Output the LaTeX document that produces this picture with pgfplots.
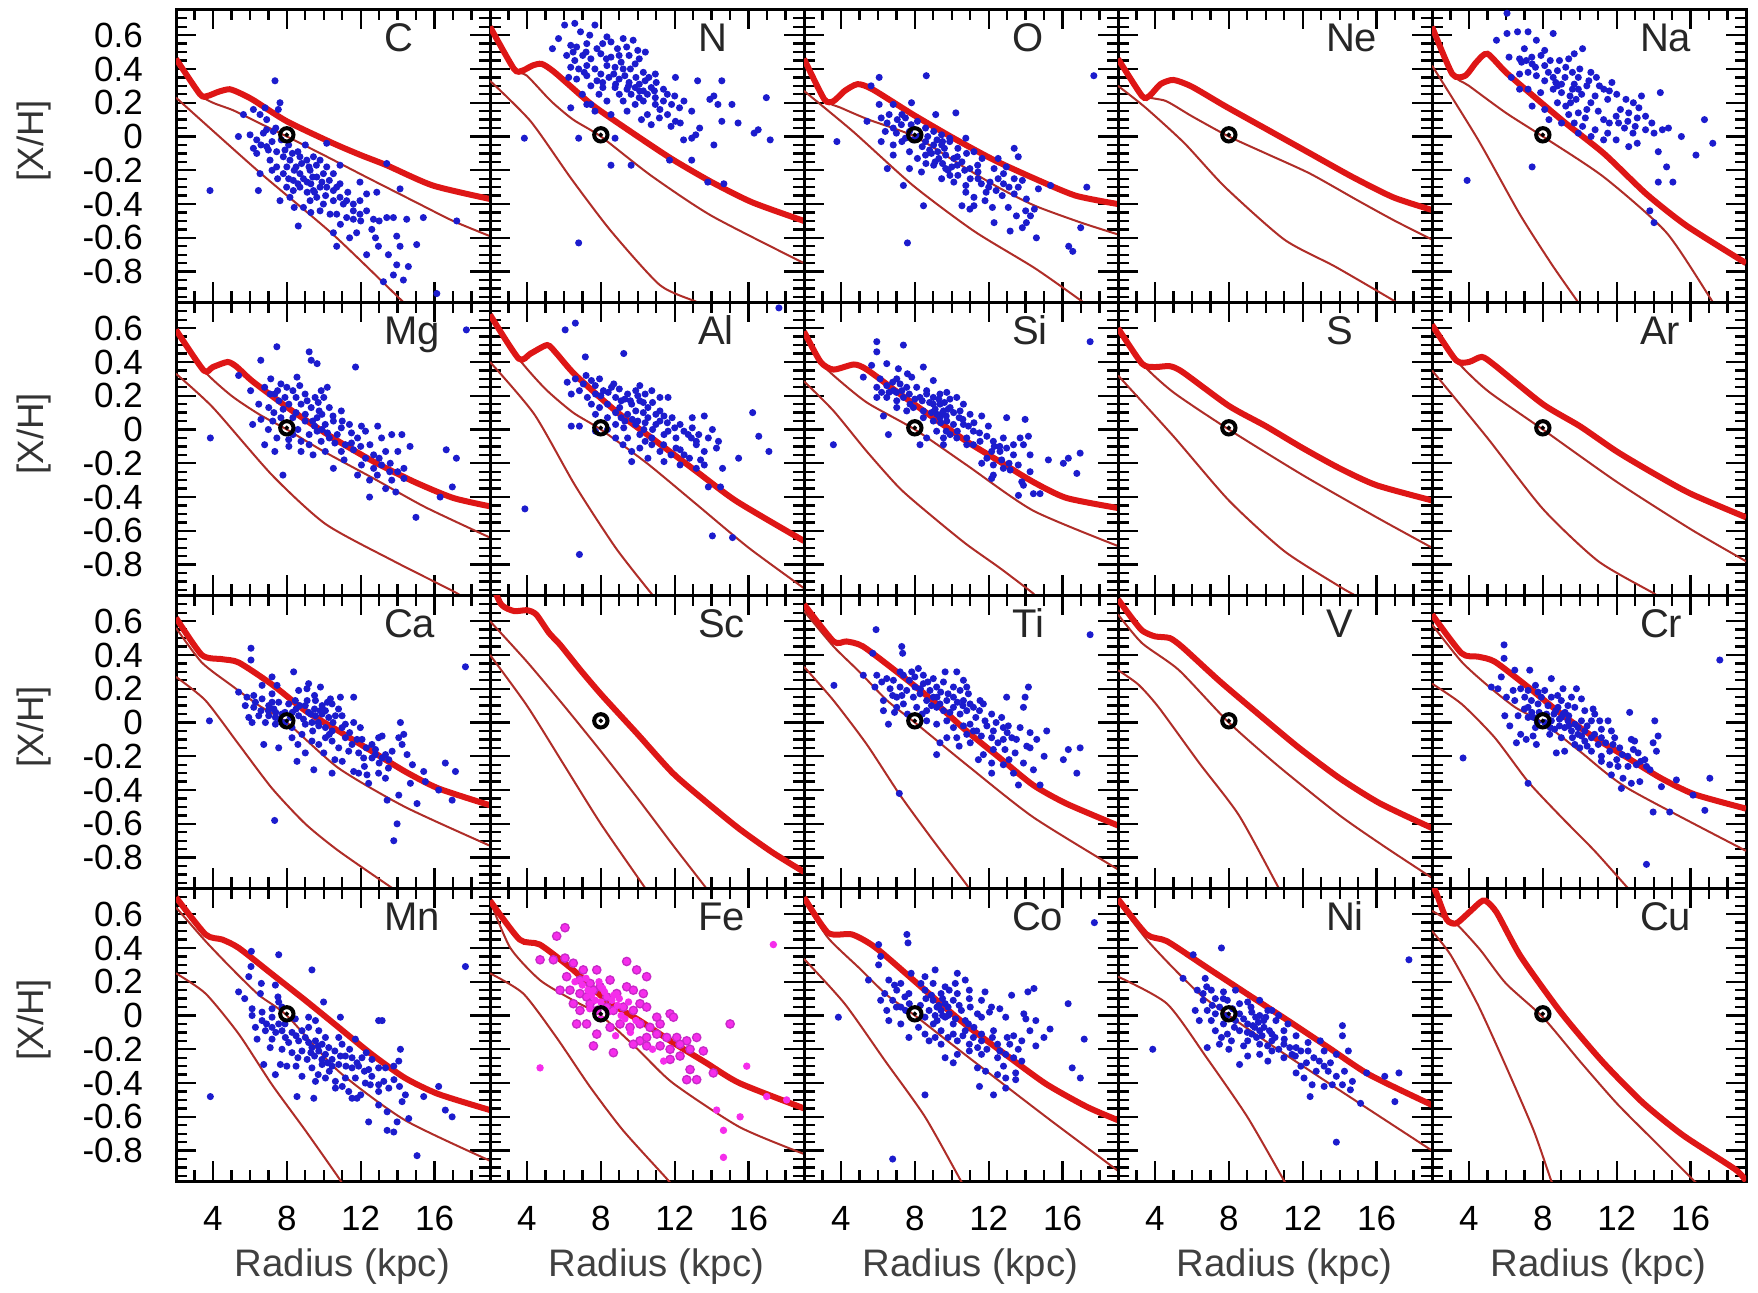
\documentclass[border=0pt]{standalone}
\usepackage{pgfplots}
\pgfplotsset{compat=1.18}
\usepgfplotslibrary{groupplots}
\usepackage{fontspec}
\setmainfont{Liberation Sans}
\definecolor{thickred}{RGB}{222,22,22}
\definecolor{thinred}{RGB}{175,45,40}
\definecolor{ptblue}{RGB}{28,28,205}
\definecolor{femag}{RGB}{245,45,235}
\definecolor{femagd}{RGB}{200,40,200}
\newcommand{\plotthick}[1]{\addplot[thickred, line width=1.8pt, smooth, tension=0.4] coordinates {#1};}
\newcommand{\plotthin}[1]{\addplot[thinred, line width=0.6pt, smooth, tension=0.4] coordinates {#1};}
\newcommand{\plotpts}[1]{\addplot[only marks, mark=*, mark size=0.85pt, ptblue] coordinates {#1};}
\newcommand{\plotsun}{\addplot[only marks, mark=o, mark size=2.0pt, line width=1.2pt, black] coordinates {(8,0.01)};\addplot[only marks, mark=*, mark size=0.45pt, black] coordinates {(8,0.01)};}
\newcommand{\plotlab}[1]{\node[anchor=base west, font=\fontsize{12}{12}\selectfont, text=black!85] at (rel axis cs:0.625,0.854) {#1};}
\newcommand{\plotylab}{\node[rotate=90, inner sep=0pt, font=\fontsize{11}{11}\selectfont, text=black!80] at (rel axis cs:-0.452,0.55) {{[}X/H{]}};}
\newcommand{\plotxlab}{\node[inner sep=0pt, font=\fontsize{11.5}{11.5}\selectfont, text=black!75] at (rel axis cs:0.53,-0.2935) {Radius (kpc)};}
\begin{document}
\begin{tikzpicture}
\begin{groupplot}[
 group style={group size=5 by 4, horizontal sep=0pt, vertical sep=0pt, xticklabels at=edge bottom, yticklabels at=edge left, group name=G},
 scale only axis, width=94.2pt, height=87.9pt,
 xmin=2, xmax=19, ymin=-0.98, ymax=0.755,
 clip mode=individual,
 xtick={4,8,12,16}, xticklabels={4,8,12,16},
 ytick={-0.8,-0.6,-0.4,-0.2,0,0.2,0.4,0.6}, yticklabels={-0.8,-0.6,-0.4,-0.2,0,0.2,0.4,0.6},
 minor xtick={3,5,6,7,9,10,11,13,14,15,17,18},
 minor ytick={-0.95,-0.9,-0.85,-0.75,-0.7,-0.65,-0.55,-0.5,-0.45,-0.35,-0.3,-0.25,-0.15,-0.1,-0.05,0.05,0.1,0.15,0.25,0.3,0.35,0.45,0.5,0.55,0.65,0.7,0.75},
 tick align=inside, xtick pos=both, ytick pos=both,
 major tick length=6pt, minor tick length=3.3pt,
 every tick/.style={black, line width=0.7pt},
 axis line style={line width=0.9pt},
 tick label style={font=\fontsize{10.5}{12}\selectfont},
 xticklabel style={yshift=-4pt},
 yticklabel style={xshift=-6.4pt},
]
% ---------------- C
\nextgroupplot
\plotthin{(2,0.23)(6.5,-0.21)(10.5,-0.58)(14.3,-0.98)(14.5,-1.0)}
\plotthin{(2,0.46)(3.3,0.25)(4,0.20)(5.1,0.155)(6.5,0.08)(8,0.0)(10,-0.11)(12.3,-0.24)(15,-0.39)(17,-0.50)(19,-0.59)}
\plotthick{(2,0.46)(3.3,0.25)(3.7,0.24)(4.3,0.265)(4.9,0.28)(5.5,0.255)(6.2,0.215)(8,0.09)(10.5,-0.04)(12,-0.11)(13.4,-0.17)(15.9,-0.29)(19,-0.37)}
\plotpts{(7.36,0.33)(7.63,0.20)(7.54,0.16)(6.82,0.17)(6.19,0.16)(5.65,0.13)(6.55,0.13)(6.91,0.10)(5.38,0.00)(6.01,0.01)(6.37,-0.02)(6.73,0.02)(7.27,0.03)(6.19,-0.07)(6.37,-0.10)(6.91,-0.06)(7.45,-0.09)(7.09,-0.14)(7.45,-0.18)(7.81,-0.12)(8.17,-0.14)(8.71,-0.12)(9.08,-0.14)(9.44,-0.12)(9.80,-0.14)(7.81,-0.22)(8.35,-0.26)(8.71,-0.22)(9.26,-0.20)(9.62,-0.24)(9.98,-0.22)(10.16,-0.18)(10.52,-0.22)(7.99,-0.30)(8.35,-0.32)(8.71,-0.30)(9.44,-0.32)(9.80,-0.30)(10.16,-0.30)(10.52,-0.32)(7.63,-0.38)(8.17,-0.36)(8.90,-0.42)(9.26,-0.38)(9.62,-0.36)(9.98,-0.40)(10.52,-0.38)(10.88,-0.36)(11.24,-0.38)(11.60,-0.40)(11.96,-0.38)(12.32,-0.34)(12.87,-0.33)(14.13,-0.31)(10.70,-0.46)(11.24,-0.48)(11.60,-0.49)(11.96,-0.46)(12.32,-0.44)(12.69,-0.49)(13.41,-0.48)(13.77,-0.48)(14.49,-0.49)(15.39,-0.48)(17.20,-0.50)(10.16,-0.04)(10.88,-0.17)(11.96,-0.27)(13.41,-0.16)(6.55,-0.22)(6.46,-0.32)(3.84,-0.32)(8.62,-0.53)(10.52,-0.57)(10.70,-0.65)(11.78,-0.57)(12.32,-0.70)(12.96,-0.65)(13.95,-0.59)(14.13,-0.65)(15.03,-0.64)(13.95,-0.76)(14.58,-0.77)(13.77,-0.82)(14.31,-0.85)(13.23,-0.86)(16.12,-0.93)(10.88,-0.28)(11.06,-0.40)(10.34,-0.46)(9.80,-0.44)(8.5,-0.18)(8.9,-0.25)(9.3,-0.28)(9.1,-0.33)(8.6,-0.09)(9.0,-0.05)(8.1,-0.05)(7.2,-0.03)(7.7,-0.02)}
\plotpts{(7.9,-0.08)(8.3,-0.1)(8.8,-0.16)(9.2,-0.18)(9.6,-0.17)(8.0,-0.18)(8.4,-0.2)(9.4,-0.24)(9.9,-0.27)(10.3,-0.26)(8.6,-0.28)(9.1,-0.27)(8.1,-0.25)(7.5,-0.25)(7.2,-0.2)(7.0,-0.08)(6.6,-0.05)(7.4,0.05)(6.9,0.04)(9.5,-0.33)(10.7,-0.3)(11.3,-0.33)(11.6,-0.44)(12.0,-0.5)(12.6,-0.55)(13.0,-0.5)(10.9,-0.52)(11.4,-0.6)(12.8,-0.6)(13.5,-0.7)(10.1,-0.35)(9.3,-0.45)(8.4,-0.42)}
\plotsun
\plotlab{C}
\plotylab
% ---------------- N
\nextgroupplot
\plotthin{(2,0.33)(4.2,0.09)(6.4,-0.25)(8.55,-0.56)(11.2,-0.88)(13.2,-0.98)(13.4,-1.0)}
\plotthin{(2,0.65)(3.3,0.40)(4,0.36)(5.3,0.21)(6.5,0.10)(8,0.0)(10.7,-0.23)(14,-0.47)(19,-0.75)}
\plotthick{(2,0.65)(3.3,0.40)(3.75,0.39)(4.3,0.42)(4.8,0.43)(5.5,0.38)(7.5,0.19)(9.6,0.03)(11.8,-0.13)(14,-0.27)(16.2,-0.39)(19,-0.50)}
\plotpts{(6.04,0.66)(6.59,0.67)(7.68,0.66)(5.71,0.58)(5.38,0.52)(6.37,0.54)(6.69,0.53)(7.24,0.55)(7.79,0.52)(8.33,0.59)(8.55,0.56)(9.21,0.58)(9.75,0.57)(10.41,0.50)(6.15,0.48)(6.59,0.45)(7.02,0.48)(7.46,0.46)(8.00,0.49)(8.55,0.47)(8.99,0.48)(9.53,0.48)(10.08,0.46)(6.37,0.41)(6.80,0.40)(7.24,0.42)(7.68,0.40)(8.33,0.42)(8.77,0.41)(9.21,0.40)(9.86,0.43)(6.26,0.35)(6.69,0.34)(7.24,0.36)(7.79,0.33)(8.44,0.35)(8.99,0.34)(9.53,0.32)(10.08,0.31)(10.95,0.37)(12.04,0.35)(13.24,0.33)(14.55,0.33)(7.46,0.30)(8.11,0.29)(8.77,0.29)(9.42,0.28)(9.86,0.29)(10.30,0.27)(10.73,0.29)(11.39,0.28)(9.64,0.25)(10.08,0.23)(10.52,0.25)(10.95,0.23)(7.46,0.19)(8.33,0.21)(9.21,0.21)(9.86,0.19)(10.30,0.21)(10.95,0.19)(11.39,0.21)(11.83,0.19)(12.26,0.17)(12.92,0.15)(13.90,0.22)(14.12,0.24)(14.34,0.19)(15.10,0.19)(16.96,0.23)(7.68,0.15)(8.55,0.13)(9.42,0.15)(10.52,0.13)(11.17,0.11)(11.61,0.13)(12.04,0.09)(10.73,0.07)(13.35,0.05)(13.14,0.01)(12.48,-0.02)(12.92,-0.01)(14.55,0.09)(15.43,0.08)(16.30,0.02)(16.52,0.04)(17.17,-0.02)(6.80,-0.01)(8.77,-0.01)(3.86,-0.01)(8.55,-0.17)(9.64,-0.17)(11.72,-0.14)(12.92,-0.14)(13.79,-0.27)(14.66,-0.28)(6.80,-0.63)(6.37,0.17)(7.24,0.19)(14.12,-0.05)(7.90,0.25)}
\plotpts{(6.9,0.62)(7.4,0.6)(8.1,0.55)(8.9,0.52)(9.4,0.53)(10.0,0.51)(6.5,0.5)(7.2,0.5)(8.3,0.46)(9.1,0.44)(9.6,0.40)(10.3,0.38)(10.6,0.35)(11.0,0.32)(7.1,0.38)(8.0,0.37)(8.7,0.37)(9.3,0.36)(9.9,0.35)(10.4,0.33)(8.1,0.32)(8.8,0.31)(9.5,0.30)(10.1,0.27)(10.9,0.27)(11.6,0.25)(11.2,0.16)(12.0,0.24)(12.5,0.21)(11.8,0.06)(12.3,0.08)(10.2,0.1)(9.0,0.25)(7.0,0.25)}
\plotsun
\plotlab{N}
% ---------------- O
\nextgroupplot
\plotthin{(2,0.27)(4.65,0.03)(7.9,-0.29)(11.2,-0.56)(14.5,-0.78)(17.1,-0.98)(17.3,-1.0)}
\plotthin{(2,0.46)(3.1,0.22)(4,0.17)(5.5,0.10)(8,0.0)(10.5,-0.17)(12.5,-0.30)(14.5,-0.41)(17,-0.51)(19,-0.58)}
\plotthick{(2,0.46)(3.1,0.22)(3.6,0.21)(4.2,0.27)(4.9,0.31)(5.7,0.28)(7.9,0.13)(10.1,-0.01)(12.3,-0.14)(14.5,-0.25)(16.7,-0.35)(19,-0.40)}
\plotpts{(8.62,0.36)(17.69,0.36)(6.07,0.35)(5.63,0.30)(6.07,0.19)(6.83,0.19)(7.82,0.20)(9.13,0.13)(10.22,0.14)(5.41,0.09)(6.18,0.11)(6.61,0.13)(7.05,0.10)(7.49,0.11)(8.14,0.09)(6.40,0.03)(6.83,0.05)(7.27,0.07)(7.71,0.03)(8.58,0.05)(9.02,0.03)(9.45,0.01)(9.89,-0.01)(6.18,-0.03)(6.83,-0.05)(7.49,-0.01)(8.58,-0.03)(9.02,-0.05)(9.45,-0.05)(9.89,-0.03)(10.33,-0.07)(10.76,-0.01)(6.83,-0.11)(7.71,-0.09)(8.14,-0.13)(8.58,-0.11)(9.24,-0.09)(9.67,-0.11)(10.11,-0.13)(10.55,-0.15)(11.20,-0.09)(11.64,-0.13)(12.51,-0.13)(13.38,-0.07)(13.60,-0.12)(7.71,-0.19)(8.36,-0.21)(9.02,-0.17)(9.67,-0.19)(10.33,-0.23)(10.98,-0.19)(11.42,-0.21)(12.29,-0.19)(12.95,-0.18)(9.45,-0.25)(10.11,-0.27)(10.76,-0.29)(11.42,-0.25)(12.07,-0.27)(12.51,-0.25)(13.38,-0.25)(13.82,-0.26)(14.69,-0.31)(15.35,-0.29)(17.31,-0.30)(10.76,-0.33)(11.20,-0.36)(11.86,-0.33)(10.55,-0.41)(11.20,-0.41)(12.73,-0.35)(13.38,-0.34)(14.04,-0.37)(14.47,-0.43)(13.06,-0.42)(12.29,-0.51)(13.16,-0.56)(13.82,-0.54)(14.26,-0.47)(14.04,-0.51)(14.58,-0.60)(16.98,-0.54)(16.33,-0.65)(16.55,-0.68)(3.78,-0.03)(6.51,-0.19)(7.38,-0.29)(8.47,-0.41)(7.60,-0.63)(10.98,-0.43)(8.8,-0.08)(9.3,-0.13)(9.6,-0.07)(8.4,-0.06)(9.1,-0.15)(10.0,-0.18)(9.8,-0.2)}
\plotpts{(7.0,0.02)(7.3,-0.03)(7.9,-0.02)(8.2,0.0)(8.7,0.0)(9.2,-0.02)(9.5,-0.03)(8.9,-0.1)(9.5,-0.16)(10.3,-0.17)(10.7,-0.2)(11.0,-0.25)(11.6,-0.28)(12.0,-0.3)(12.4,-0.32)(12.8,-0.28)(13.1,-0.3)(11.8,-0.38)(12.2,-0.42)(10.3,-0.12)(10.8,-0.1)(7.3,0.13)(6.5,0.08)(7.8,0.07)(8.6,-0.16)(9.9,-0.23)(11.4,-0.17)(12.8,-0.22)(13.6,-0.3)(14.0,-0.44)(13.5,-0.47)}
\plotsun
\plotlab{O}
% ---------------- Ne
\nextgroupplot
\plotthin{(2,0.30)(3.5,0.17)(5.6,-0.04)(7.8,-0.30)(11,-0.61)(13.75,-0.77)(16.9,-0.97)(17.3,-1.0)}
\plotthin{(2,0.46)(3.3,0.25)(4.6,0.21)(6,0.12)(8,0.0)(10,-0.10)(12.4,-0.22)(15,-0.38)(17,-0.50)(19,-0.61)}
\plotthick{(2,0.46)(3.3,0.24)(3.7,0.24)(4.3,0.31)(5,0.335)(6,0.295)(7.8,0.18)(10.1,0.04)(12.4,-0.10)(14.7,-0.24)(16.9,-0.36)(19,-0.435)}
\plotsun
\plotlab{Ne}
% ---------------- Na
\nextgroupplot
\plotthin{(2,0.42)(4.5,-0.02)(6.75,-0.46)(8.5,-0.76)(9.9,-0.98)(10,-1.0)}
\plotthin{(2,0.65)(3.1,0.37)(4,0.30)(6,0.14)(8,0.0)(11.3,-0.24)(14.7,-0.57)(17.2,-0.98)(17.4,-1.0)}
\plotthick{(2,0.65)(3.1,0.37)(3.8,0.36)(4.4,0.44)(5.0,0.49)(6.1,0.37)(9,0.10)(11.3,-0.10)(13.6,-0.34)(15.8,-0.53)(19,-0.75)}
\plotpts{(6.06,0.73)(5.49,0.57)(6.06,0.61)(6.63,0.62)(7.20,0.62)(7.65,0.57)(8.56,0.61)(9.70,0.49)(10.15,0.52)(6.17,0.47)(6.74,0.46)(7.42,0.43)(8.10,0.42)(8.79,0.39)(9.24,0.41)(9.92,0.35)(10.49,0.33)(11.06,0.30)(11.74,0.32)(6.29,0.35)(6.74,0.37)(7.20,0.38)(7.65,0.36)(8.10,0.33)(8.56,0.35)(9.01,0.31)(9.70,0.31)(10.38,0.30)(6.74,0.28)(7.20,0.28)(7.88,0.26)(8.56,0.28)(9.01,0.26)(9.47,0.24)(9.92,0.28)(10.83,0.24)(11.51,0.22)(12.20,0.16)(13.34,0.24)(14.36,0.26)(7.42,0.18)(8.10,0.16)(8.79,0.20)(9.24,0.18)(9.92,0.14)(10.38,0.16)(11.29,0.10)(11.97,0.12)(12.65,0.14)(13.11,0.11)(13.56,0.12)(8.33,0.10)(9.01,0.08)(9.70,0.08)(10.15,0.06)(10.83,0.04)(11.51,0.02)(12.42,0.05)(12.88,0.02)(13.56,0.04)(14.02,0.02)(14.47,0.04)(15.50,0.00)(16.75,0.10)(17.20,-0.04)(16.29,-0.11)(9.92,0.02)(10.61,0.00)(11.29,-0.02)(11.97,-0.02)(12.65,-0.06)(13.11,-0.04)(14.25,-0.09)(14.70,-0.18)(14.25,-0.27)(15.04,-0.27)(13.79,-0.44)(14.02,-0.51)(3.90,-0.26)(7.42,-0.18)(6.85,0.44)(8.10,0.51)(9.5,0.2)(9.8,0.22)(10.1,0.25)(9.6,0.28)(8.8,0.3)}
\plotpts{(7.0,0.52)(7.4,0.47)(7.9,0.48)(8.4,0.45)(8.9,0.45)(9.4,0.46)(8.3,0.38)(8.7,0.32)(9.2,0.35)(9.6,0.38)(10.0,0.4)(10.6,0.38)(10.9,0.35)(11.3,0.28)(11.6,0.27)(12.0,0.25)(12.5,0.22)(12.9,0.2)(13.2,0.17)(10.6,0.2)(11.0,0.15)(11.6,0.08)(12.1,0.08)(12.6,0.09)(13.0,0.06)(13.9,0.08)(14.8,0.05)(9.4,0.13)(10.3,0.11)(7.1,0.45)(7.6,0.41)}
\plotsun
\plotlab{Na}
% ---------------- Mg
\nextgroupplot
\plotthin{(2,0.33)(4,0.13)(7.2,-0.27)(10.1,-0.56)(13.8,-0.78)(17.05,-0.96)(17.6,-1.0)}
\plotthin{(2,0.59)(3.5,0.35)(5,0.20)(6.5,0.09)(8,0.0)(10,-0.13)(12.7,-0.29)(15.5,-0.46)(19,-0.64)}
\plotthick{(2,0.59)(3.5,0.35)(4.0,0.37)(4.8,0.40)(5.3,0.37)(6.15,0.285)(8.3,0.11)(10.5,-0.05)(12.7,-0.19)(14.9,-0.31)(17,-0.405)(19,-0.455)}
\plotpts{(7.46,0.49)(9.21,0.46)(9.32,0.41)(9.64,0.39)(6.59,0.41)(11.72,0.37)(5.39,0.32)(7.13,0.30)(7.68,0.27)(8.55,0.31)(10.19,0.25)(6.04,0.23)(6.80,0.25)(7.35,0.21)(7.90,0.19)(8.33,0.23)(8.99,0.21)(9.53,0.19)(9.86,0.23)(6.48,0.15)(7.02,0.13)(7.57,0.17)(8.11,0.15)(8.77,0.15)(9.32,0.13)(9.75,0.11)(10.30,0.13)(10.95,0.11)(6.15,0.03)(7.24,0.05)(7.68,0.07)(8.33,0.07)(8.99,0.05)(9.64,0.07)(10.08,0.03)(10.52,0.05)(10.95,0.01)(11.39,0.03)(12.04,0.02)(12.92,0.02)(6.80,-0.09)(7.46,-0.05)(8.33,-0.03)(8.77,-0.07)(9.21,-0.03)(9.64,-0.01)(10.30,-0.05)(10.73,-0.03)(11.17,-0.09)(11.83,-0.05)(12.26,-0.01)(13.13,-0.05)(13.68,-0.03)(14.23,-0.03)(7.35,-0.13)(8.11,-0.10)(8.77,-0.13)(9.42,-0.15)(10.08,-0.13)(10.95,-0.13)(11.61,-0.12)(12.26,-0.17)(12.70,-0.15)(13.35,-0.13)(14.01,-0.13)(14.67,-0.10)(16.63,-0.12)(17.18,-0.17)(12.04,-0.21)(12.70,-0.23)(13.13,-0.21)(13.57,-0.25)(14.34,-0.23)(11.83,-0.27)(12.48,-0.30)(13.68,-0.30)(14.34,-0.29)(13.90,-0.37)(13.35,-0.35)(12.48,-0.40)(14.99,-0.52)(16.30,-0.40)(16.96,-0.34)(7.79,-0.27)(3.86,-0.05)(10.52,-0.23)(17.72,0.59)(9.86,-0.07)(9.21,-0.09)(9.9,0.0)(10.2,-0.02)(9.5,0.02)}
\plotpts{(7.1,0.21)(7.5,0.23)(8.0,0.25)(8.5,0.19)(8.7,0.26)(9.1,0.17)(9.7,0.16)(10.0,0.19)(7.3,0.1)(7.8,0.12)(8.5,0.1)(9.0,0.09)(9.4,0.05)(9.9,0.09)(10.5,0.08)(10.6,-0.08)(11.5,-0.08)(12.0,-0.1)(12.5,-0.09)(13.0,-0.17)(13.6,-0.2)(11.1,-0.18)(11.5,-0.02)(8.6,0.0)(7.0,0.0)(6.6,0.06)(12.9,-0.27)(14.0,-0.25)(11.0,0.05)(8.1,-0.06)}
\plotsun
\plotlab{Mg}
\plotylab
% ---------------- Al
\nextgroupplot
\plotthin{(2,0.40)(4.4,0.09)(6.6,-0.33)(8.8,-0.70)(10.8,-0.98)(11,-1.0)}
\plotthin{(2,0.68)(3.55,0.42)(5,0.24)(6.5,0.10)(8,0.0)(10.5,-0.20)(13.2,-0.445)(16,-0.70)(19,-0.94)}
\plotthick{(2,0.68)(3.55,0.42)(4.2,0.45)(5.1,0.50)(5.6,0.45)(6.6,0.325)(8.8,0.11)(11,-0.07)(13.2,-0.25)(15.35,-0.425)(19,-0.66)}
\plotpts{(6.07,0.59)(6.62,0.63)(9.24,0.45)(7.16,0.43)(6.18,0.28)(6.62,0.30)(7.05,0.27)(7.49,0.29)(7.93,0.30)(8.58,0.25)(10.11,0.26)(6.40,0.21)(6.84,0.23)(7.27,0.19)(7.71,0.21)(8.14,0.23)(8.80,0.19)(9.45,0.21)(9.89,0.23)(10.76,0.23)(11.20,0.19)(11.64,0.19)(7.49,0.15)(7.93,0.13)(8.36,0.15)(9.02,0.13)(9.67,0.15)(10.11,0.17)(10.55,0.13)(11.20,0.11)(7.71,0.09)(8.36,0.07)(8.80,0.10)(9.45,0.09)(9.89,0.11)(10.55,0.07)(10.98,0.09)(11.42,0.08)(11.86,0.07)(12.95,0.07)(13.60,0.08)(6.40,0.02)(6.84,0.02)(8.80,0.03)(9.24,0.01)(9.89,0.03)(10.33,0.00)(10.98,0.03)(11.64,-0.01)(12.29,0.03)(12.95,0.01)(14.04,0.00)(16.22,0.10)(8.80,-0.05)(9.45,-0.05)(10.11,-0.03)(10.76,-0.05)(11.42,-0.03)(12.07,-0.05)(12.73,-0.03)(13.17,-0.07)(13.82,-0.05)(14.37,-0.07)(16.55,-0.04)(17.10,-0.13)(9.67,-0.13)(10.11,-0.11)(10.76,-0.09)(11.20,-0.13)(12.07,-0.11)(12.51,-0.15)(13.17,-0.09)(13.60,-0.13)(14.26,-0.11)(9.67,-0.19)(10.55,-0.17)(11.42,-0.19)(12.29,-0.21)(13.17,-0.23)(13.60,-0.21)(14.59,-0.23)(15.46,-0.17)(13.82,-0.34)(14.48,-0.34)(14.04,-0.63)(15.13,-0.64)(3.89,-0.47)(6.84,-0.74)(17.64,0.72)(7.71,-0.01)(8.36,0.00)(9.1,0.17)(9.3,0.05)(10.3,0.10)}
\plotpts{(7.2,0.32)(7.7,0.26)(8.0,0.2)(8.4,0.22)(8.7,0.27)(9.0,0.24)(9.3,0.18)(9.6,0.17)(10.0,0.2)(10.4,0.21)(10.3,0.16)(10.8,0.16)(9.1,0.07)(9.7,0.06)(10.0,0.05)(10.4,0.04)(10.8,0.0)(11.2,0.05)(11.6,0.04)(12.0,0.01)(12.5,-0.01)(12.9,-0.05)(13.3,-0.03)(11.4,-0.09)(11.8,-0.15)(12.3,-0.12)(12.8,-0.17)(13.4,-0.18)(9.2,-0.09)(10.4,-0.07)}
\plotsun
\plotlab{Al}
% ---------------- Si
\nextgroupplot
\plotthin{(2,0.285)(3.6,0.11)(5.4,-0.13)(7.2,-0.35)(9,-0.52)(10.8,-0.68)(12.6,-0.82)(14.4,-0.97)(14.6,-1.0)}
\plotthin{(2,0.58)(2.9,0.40)(3.6,0.32)(5.4,0.16)(8,0.0)(10.8,-0.21)(14.4,-0.48)(19,-0.69)}
\plotthick{(2,0.58)(2.9,0.40)(3.6,0.355)(4.7,0.385)(5.4,0.355)(7.2,0.21)(9,0.07)(10.8,-0.07)(12.6,-0.19)(14.4,-0.31)(16.2,-0.405)(19,-0.465)}
\plotpts{(5.94,0.52)(5.94,0.46)(7.38,0.50)(17.49,0.52)(5.66,0.38)(6.48,0.39)(8.46,0.37)(7.11,0.36)(5.21,0.31)(6.12,0.30)(7.02,0.30)(7.83,0.31)(9.00,0.29)(5.94,0.25)(6.48,0.26)(6.84,0.23)(7.20,0.27)(7.56,0.25)(8.10,0.25)(8.64,0.23)(5.94,0.19)(6.48,0.19)(7.02,0.17)(7.38,0.19)(7.74,0.15)(8.28,0.19)(8.64,0.21)(9.00,0.19)(9.36,0.21)(9.73,0.22)(10.27,0.19)(10.63,0.15)(7.02,0.13)(7.56,0.11)(7.92,0.13)(8.46,0.11)(9.00,0.15)(9.36,0.15)(9.55,0.11)(9.91,0.13)(10.45,0.11)(10.99,0.09)(11.62,0.08)(12.97,0.07)(13.97,0.06)(6.30,0.08)(8.46,0.07)(9.00,0.05)(9.36,0.07)(9.73,0.05)(10.09,0.03)(10.63,0.03)(11.17,-0.01)(11.98,0.02)(6.57,-0.03)(8.64,-0.05)(9.18,-0.01)(9.55,-0.05)(9.91,-0.03)(10.27,-0.05)(10.81,-0.05)(11.17,-0.09)(11.53,-0.07)(12.25,-0.07)(12.79,-0.05)(12.97,-0.11)(13.34,-0.09)(13.70,-0.05)(14.15,-0.04)(8.28,-0.09)(9.55,-0.09)(10.81,-0.09)(12.16,-0.13)(12.61,-0.13)(13.34,-0.15)(13.88,-0.09)(14.24,-0.15)(15.23,-0.18)(16.95,-0.14)(16.31,-0.17)(16.04,-0.20)(11.62,-0.20)(12.25,-0.21)(12.79,-0.23)(13.16,-0.24)(14.24,-0.25)(12.25,-0.27)(12.16,-0.29)(13.79,-0.31)(13.88,-0.33)(14.42,-0.38)(14.78,-0.38)(13.61,-0.39)(16.77,-0.26)(3.59,-0.09)(9.5,0.10)(9.7,0.08)(9.4,0.04)(9.8,0.12)(9.2,0.09)}
\plotpts{(6.2,0.22)(6.6,0.22)(7.0,0.22)(7.3,0.23)(7.7,0.21)(8.0,0.18)(8.4,0.17)(8.8,0.16)(9.1,0.12)(9.3,0.18)(9.6,0.16)(9.9,0.18)(10.1,0.1)(10.4,0.07)(10.6,0.06)(10.9,0.02)(11.2,0.04)(11.5,-0.02)(11.9,-0.04)(12.3,-0.1)(12.6,-0.1)(11.9,-0.17)(12.7,-0.18)(13.1,-0.2)(13.6,-0.21)(10.3,-0.01)(9.7,-0.01)(8.9,0.1)(6.8,0.28)(7.6,0.33)}
\plotsun
\plotlab{Si}
% ---------------- S
\nextgroupplot
\plotthin{(2,0.32)(5,-0.04)(8,-0.42)(11,-0.72)(14,-0.93)(14.8,-0.98)(15.1,-1.0)}
\plotthin{(2,0.60)(3.3,0.39)(5,0.22)(8,0.0)(12,-0.27)(16,-0.52)(19,-0.70)}
\plotthick{(2,0.60)(3.3,0.39)(4.0,0.37)(4.8,0.375)(5.5,0.34)(8,0.14)(10,0.02)(12,-0.11)(14,-0.23)(16,-0.33)(19,-0.42)}
\plotsun
\plotlab{S}
% ---------------- Ar
\nextgroupplot
\plotthin{(2,0.35)(5,-0.05)(8,-0.47)(11,-0.78)(14,-0.97)(14.3,-1.0)}
\plotthin{(2,0.62)(3.3,0.41)(5,0.23)(8,0.0)(12,-0.31)(16,-0.59)(19,-0.78)}
\plotthick{(2,0.62)(3.3,0.41)(4,0.40)(4.7,0.43)(5.4,0.38)(8,0.15)(10,0.02)(12,-0.13)(14,-0.26)(16,-0.38)(19,-0.52)}
\plotsun
\plotlab{Ar}
% ---------------- Ca
\nextgroupplot
\plotthin{(2,0.27)(3.6,0.13)(5.4,-0.13)(7.2,-0.39)(9,-0.60)(10.8,-0.76)(13.7,-0.98)(14,-1.0)}
\plotthin{(2,0.56)(3.4,0.355)(5,0.22)(6.5,0.10)(8,0.0)(10.8,-0.27)(14.4,-0.50)(19,-0.73)}
\plotthick{(2,0.62)(3.4,0.40)(4.5,0.375)(5.4,0.355)(7.2,0.225)(9,0.07)(10.8,-0.05)(12.6,-0.17)(14.4,-0.29)(16.2,-0.39)(19,-0.49)}
\plotpts{(6.06,0.44)(6.06,0.37)(17.67,0.33)(8.37,0.30)(7.20,0.27)(9.18,0.23)(6.66,0.22)(7.47,0.22)(5.39,0.18)(5.84,0.15)(6.21,0.16)(6.66,0.14)(7.20,0.17)(8.64,0.19)(9.09,0.20)(9.82,0.21)(10.36,0.14)(10.90,0.15)(11.62,0.15)(5.75,0.10)(6.21,0.09)(7.02,0.10)(7.56,0.12)(8.10,0.11)(8.46,0.13)(9.00,0.10)(9.55,0.13)(9.91,0.10)(10.09,0.07)(10.45,0.11)(5.94,0.03)(6.48,0.04)(7.02,0.04)(7.38,0.03)(7.74,0.05)(8.64,0.04)(9.18,0.06)(9.55,0.04)(9.91,0.05)(10.27,0.03)(10.63,0.04)(10.99,0.04)(3.81,0.01)(6.12,0.00)(6.84,0.00)(7.38,-0.01)(8.28,-0.03)(9.00,-0.01)(9.36,0.00)(9.73,-0.02)(10.09,-0.03)(10.45,-0.05)(10.99,-0.03)(11.17,-0.01)(11.62,0.00)(11.98,-0.03)(14.15,0.00)(6.75,-0.13)(7.56,-0.15)(8.28,-0.09)(8.82,-0.07)(9.36,-0.11)(9.73,-0.13)(10.09,-0.09)(10.45,-0.11)(10.81,-0.15)(11.17,-0.09)(11.53,-0.13)(12.07,-0.10)(12.61,-0.13)(12.97,-0.09)(13.16,-0.08)(14.06,-0.09)(14.33,-0.07)(14.24,-0.13)(13.70,-0.17)(12.79,-0.19)(13.34,-0.19)(11.35,-0.17)(11.89,-0.18)(12.16,-0.21)(12.61,-0.21)(13.16,-0.21)(13.52,-0.22)(14.51,-0.19)(8.55,-0.23)(9.46,-0.28)(10.45,-0.30)(11.62,-0.29)(11.89,-0.30)(12.34,-0.31)(12.43,-0.36)(12.97,-0.30)(13.34,-0.33)(14.69,-0.36)(15.41,-0.29)(16.22,-0.40)(16.58,-0.24)(17.13,-0.29)(16.95,-0.46)(15.05,-0.48)(13.43,-0.46)(14.06,-0.43)(13.97,-0.60)(13.79,-0.70)(7.34,-0.58)(7.6,0.02)(7.9,0.06)(8.2,0.03)(8.5,0.08)(9.3,0.05)(9.5,0.08)(9.7,0.0)(9.4,-0.05)(7.0,0.07)(7.3,0.08)}
\plotpts{(7.4,0.06)(7.9,0.0)(8.3,0.06)(8.7,0.1)(8.9,0.02)(9.1,0.13)(9.5,0.16)(9.8,0.07)(10.2,0.12)(10.5,0.0)(10.8,0.08)(10.3,-0.07)(11.4,-0.06)(11.8,-0.1)(12.3,-0.15)(12.8,-0.16)(13.0,-0.24)(13.5,-0.27)(8.6,-0.13)(9.0,-0.18)(10.0,-0.18)(10.6,-0.22)(11.0,-0.23)(6.6,0.07)(6.3,0.12)(7.2,0.12)(12.2,-0.26)(14.8,-0.25)(15.5,-0.35)}
\plotsun
\plotlab{Ca}
\plotylab
% ---------------- Sc
\nextgroupplot
\plotthin{(2,0.40)(4,0.10)(6,-0.25)(8,-0.60)(10.4,-0.98)(10.5,-1.0)}
\plotthin{(2,0.60)(4,0.36)(6,0.10)(8,-0.17)(10,-0.45)(12,-0.74)(13.7,-0.98)(13.8,-1.0)}
\plotthick{(2,0.85)(2.6,0.70)(3.3,0.66)(4.0,0.665)(4.5,0.64)(5.2,0.53)(5.8,0.46)(6.9,0.31)(8.07,0.16)(10,-0.07)(11.9,-0.30)(13.7,-0.47)(15.5,-0.63)(17.3,-0.77)(19,-0.885)}
\plotsun
\plotlab{Sc}
% ---------------- Ti
\nextgroupplot
\plotthin{(2,0.33)(3.6,0.13)(5.4,-0.13)(7.2,-0.43)(9,-0.70)(10.8,-0.96)(11,-1.0)}
\plotthin{(2,0.66)(3.6,0.45)(5,0.30)(6.5,0.13)(8,0.0)(10.8,-0.25)(14.4,-0.56)(19,-0.87)}
\plotthick{(2,0.70)(3.6,0.48)(4.3,0.48)(5.2,0.45)(7.2,0.285)(9,0.127)(10.8,-0.05)(12.6,-0.21)(14.4,-0.37)(16.2,-0.48)(19,-0.61)}
\plotpts{(5.90,0.55)(17.49,0.52)(7.29,0.45)(7.34,0.41)(5.72,0.41)(5.21,0.28)(5.94,0.28)(6.48,0.26)(6.84,0.25)(7.20,0.30)(7.38,0.28)(7.83,0.30)(8.19,0.32)(8.46,0.28)(9.00,0.26)(9.64,0.30)(10.27,0.30)(10.63,0.25)(5.84,0.21)(6.21,0.24)(6.66,0.20)(7.20,0.21)(7.56,0.19)(8.01,0.21)(8.46,0.23)(8.82,0.19)(9.18,0.21)(9.55,0.24)(10.09,0.21)(10.45,0.19)(10.81,0.21)(14.15,0.21)(3.62,0.22)(6.30,0.13)(7.02,0.15)(7.38,0.11)(7.92,0.15)(8.28,0.17)(8.64,0.13)(9.00,0.15)(9.36,0.11)(9.73,0.13)(10.09,0.15)(10.63,0.13)(10.99,0.11)(11.53,0.13)(12.97,0.15)(13.97,0.15)(6.30,0.07)(7.02,0.09)(8.10,0.09)(8.64,0.07)(9.18,0.09)(9.55,0.07)(10.09,0.09)(10.45,0.05)(10.81,0.07)(11.17,0.09)(11.71,0.11)(12.16,0.05)(12.70,0.03)(13.88,0.09)(6.57,-0.01)(8.64,0.01)(9.18,-0.01)(9.73,0.01)(10.09,-0.03)(10.63,-0.02)(10.99,-0.01)(11.35,-0.05)(11.80,0.01)(12.25,-0.05)(12.79,-0.03)(13.06,-0.02)(13.70,-0.03)(14.24,-0.06)(15.14,-0.05)(9.73,-0.09)(10.27,-0.09)(10.81,-0.07)(11.17,-0.05)(12.16,-0.09)(12.79,-0.10)(13.25,-0.09)(14.06,-0.14)(14.24,-0.15)(9.36,-0.12)(9.18,-0.19)(11.71,-0.19)(12.25,-0.16)(12.88,-0.16)(13.43,-0.18)(16.31,-0.16)(16.95,-0.15)(16.04,-0.22)(16.77,-0.30)(11.44,-0.22)(12.16,-0.24)(12.79,-0.25)(13.88,-0.24)(14.42,-0.28)(12.16,-0.30)(13.34,-0.30)(13.61,-0.37)(14.78,-0.37)(7.16,-0.42)}
\plotpts{(6.8,0.16)(7.3,0.16)(7.7,0.25)(8.0,0.27)(8.3,0.2)(8.7,0.24)(8.9,0.1)(9.2,0.15)(9.4,0.18)(9.8,0.17)(9.9,0.06)(10.3,0.12)(10.6,0.1)(10.9,0.17)(11.3,0.03)(11.5,0.07)(11.9,-0.02)(12.4,0.0)(12.5,-0.12)(13.0,-0.06)(13.5,-0.1)(11.0,-0.12)(11.6,-0.08)(10.4,-0.14)(13.1,-0.22)(14.6,-0.1)(15.0,-0.2)(8.4,0.05)(7.6,0.05)(6.9,0.06)}
\plotsun
\plotlab{Ti}
% ---------------- V
\nextgroupplot
\plotthin{(2,0.31)(3.1,0.225)(4.2,0.09)(6.4,-0.24)(8.55,-0.55)(10.7,-0.98)(10.8,-1.0)}
\plotthin{(2,0.64)(3.3,0.47)(5.3,0.31)(8,0.0)(10.7,-0.26)(14,-0.55)(16.5,-0.74)(19,-0.92)}
\plotthick{(2,0.73)(2.6,0.64)(3.3,0.545)(4,0.51)(4.8,0.50)(5.5,0.445)(7.5,0.245)(9.6,0.05)(11.8,-0.15)(14,-0.33)(16.2,-0.48)(19,-0.625)}
\plotsun
\plotlab{V}
% ---------------- Cr
\nextgroupplot
\plotthin{(2,0.23)(3.6,0.11)(5.4,-0.09)(7.2,-0.35)(9,-0.56)(10.8,-0.76)(12.6,-0.98)(12.8,-1.0)}
\plotthin{(2,0.58)(3.6,0.36)(5,0.22)(6.5,0.09)(8,0.0)(10,-0.17)(12.6,-0.39)(19,-0.76)}
\plotthick{(2,0.64)(3.6,0.41)(4.5,0.39)(5.4,0.36)(7.2,0.21)(9,0.05)(10.8,-0.09)(12.6,-0.21)(14.4,-0.33)(16.2,-0.425)(19,-0.51)}
\plotpts{(5.90,0.46)(5.90,0.38)(17.58,0.37)(6.48,0.31)(7.29,0.31)(8.46,0.26)(5.75,0.27)(5.21,0.21)(5.57,0.20)(6.39,0.19)(7.20,0.19)(7.74,0.18)(9.09,0.20)(9.82,0.20)(6.03,0.15)(6.48,0.13)(7.02,0.15)(7.38,0.13)(7.92,0.15)(8.46,0.15)(9.00,0.13)(9.55,0.15)(10.09,0.14)(10.72,0.08)(7.20,0.09)(7.74,0.11)(8.28,0.10)(8.82,0.09)(9.36,0.10)(9.73,0.09)(10.27,0.07)(10.81,0.05)(12.70,0.06)(14.06,0.01)(5.94,0.04)(6.66,0.04)(7.20,0.03)(8.46,0.01)(9.00,0.03)(9.36,0.01)(9.73,-0.01)(10.09,0.01)(10.63,0.01)(11.08,0.01)(11.53,0.01)(6.21,-0.02)(8.64,-0.04)(9.18,-0.03)(9.55,-0.05)(9.91,-0.03)(10.27,-0.05)(11.17,-0.04)(11.71,-0.05)(7.47,-0.08)(8.37,-0.07)(9.00,-0.09)(9.73,-0.13)(10.27,-0.11)(10.63,-0.09)(11.17,-0.09)(11.89,-0.09)(12.79,-0.10)(12.97,-0.11)(14.24,-0.08)(13.97,-0.12)(14.15,-0.17)(6.57,-0.12)(7.65,-0.13)(8.73,-0.18)(9.18,-0.17)(10.00,-0.15)(10.63,-0.17)(11.17,-0.20)(11.62,-0.17)(12.16,-0.15)(13.16,-0.18)(13.52,-0.22)(11.17,-0.23)(11.62,-0.25)(12.07,-0.26)(12.61,-0.26)(13.06,-0.25)(13.61,-0.26)(3.68,-0.21)(11.71,-0.31)(12.34,-0.33)(12.79,-0.36)(13.25,-0.35)(14.42,-0.38)(12.25,-0.39)(15.23,-0.34)(16.13,-0.43)(16.77,-0.52)(17.04,-0.33)(13.97,-0.53)(14.87,-0.53)(7.20,-0.36)(13.61,-0.84)(7.5,0.03)(7.8,0.06)(8.1,0.0)(8.6,0.05)(8.9,0.02)(9.2,0.06)(9.4,-0.02)(7.6,-0.03)}
\plotpts{(7.0,0.08)(7.4,0.06)(7.7,0.0)(8.2,0.05)(8.4,-0.03)(8.7,0.07)(8.9,-0.02)(9.1,0.05)(9.4,0.04)(9.6,-0.09)(9.9,-0.07)(10.1,-0.08)(10.4,-0.02)(10.8,-0.07)(11.0,-0.13)(11.4,-0.12)(11.8,-0.13)(12.3,-0.19)(12.6,-0.2)(12.9,-0.16)(13.3,-0.23)(13.8,-0.28)(12.0,-0.22)(10.4,-0.14)(6.8,0.2)(7.6,0.22)(8.1,0.19)(8.8,0.16)(6.8,-0.07)(7.1,-0.1)}
\plotsun
\plotlab{Cr}
% ---------------- Mn
\nextgroupplot
\plotthin{(2,0.25)(3.6,0.13)(5.4,-0.11)(7.2,-0.41)(9,-0.68)(10.8,-0.96)(11,-1.0)}
\plotthin{(2,0.64)(3.6,0.44)(5,0.28)(6.5,0.12)(8,0.0)(10.8,-0.33)(14.4,-0.62)(19,-0.86)}
\plotthick{(2,0.70)(3.6,0.48)(4.5,0.45)(5.4,0.40)(7.2,0.245)(9,0.09)(10.8,-0.07)(12.6,-0.23)(14.4,-0.37)(16.2,-0.465)(19,-0.56)}
\plotpts{(6.08,0.38)(7.56,0.36)(9.36,0.27)(17.67,0.29)(6.06,0.29)(5.94,0.23)(6.62,0.19)(7.38,0.18)(5.39,0.14)(5.72,0.10)(6.57,0.13)(7.52,0.11)(7.56,0.08)(9.99,0.08)(6.12,0.04)(6.66,0.02)(7.20,0.04)(7.74,0.05)(6.12,0.00)(6.66,-0.03)(7.20,-0.01)(7.56,-0.05)(8.46,-0.02)(9.18,-0.01)(9.55,-0.03)(10.90,-0.01)(12.97,-0.03)(13.16,-0.03)(6.30,-0.07)(6.84,-0.09)(7.20,-0.07)(7.74,-0.09)(8.28,-0.10)(8.82,-0.09)(9.18,-0.07)(9.73,-0.09)(10.09,-0.13)(10.81,-0.13)(6.39,-0.14)(7.20,-0.14)(7.92,-0.13)(8.64,-0.15)(9.18,-0.16)(9.55,-0.15)(9.91,-0.17)(10.27,-0.19)(10.99,-0.17)(11.71,-0.14)(7.74,-0.20)(8.28,-0.22)(8.82,-0.21)(9.36,-0.19)(9.73,-0.21)(10.09,-0.23)(10.45,-0.26)(11.17,-0.24)(11.53,-0.25)(12.07,-0.25)(12.61,-0.26)(14.15,-0.20)(14.06,-0.27)(6.75,-0.29)(7.65,-0.29)(9.36,-0.31)(9.91,-0.29)(10.45,-0.30)(10.81,-0.29)(11.53,-0.31)(11.89,-0.30)(12.43,-0.32)(12.97,-0.31)(13.34,-0.31)(13.79,-0.30)(7.38,-0.35)(8.82,-0.36)(9.55,-0.39)(10.09,-0.37)(10.63,-0.39)(11.17,-0.37)(11.71,-0.37)(12.25,-0.40)(12.52,-0.41)(12.97,-0.41)(13.25,-0.39)(13.52,-0.43)(10.63,-0.43)(11.35,-0.45)(11.53,-0.49)(11.80,-0.49)(12.97,-0.45)(14.42,-0.47)(14.24,-0.51)(15.41,-0.48)(16.22,-0.42)(8.55,-0.48)(9.46,-0.49)(3.86,-0.48)(12.97,-0.53)(13.43,-0.57)(14.60,-0.61)(13.97,-0.63)(13.43,-0.68)(13.79,-0.69)(12.43,-0.63)(16.58,-0.56)(16.95,-0.60)(15.05,-0.83)}
\plotpts{(6.9,-0.05)(7.4,-0.1)(7.9,-0.05)(8.1,-0.16)(8.5,-0.12)(8.6,-0.25)(9.0,-0.13)(9.1,-0.26)(9.3,-0.22)(9.5,-0.24)(9.7,-0.18)(9.9,-0.26)(10.2,-0.28)(10.6,-0.21)(10.9,-0.24)(11.2,-0.3)(11.4,-0.2)(11.8,-0.28)(12.2,-0.33)(12.6,-0.36)(12.3,-0.22)(11.0,-0.42)(10.3,-0.33)(9.7,-0.35)(8.5,-0.3)(8.0,-0.3)(7.1,-0.19)(13.8,-0.38)(14.1,-0.42)(12.0,-0.47)}
\plotsun
\plotlab{Mn}
\plotylab
\plotxlab
% ---------------- Fe
\nextgroupplot
\plotthin{(2,0.25)(3.8,0.13)(5.6,-0.13)(7.4,-0.42)(9.2,-0.68)(11.6,-0.97)(11.8,-1.0)}
\plotthin{(2,0.68)(3.1,0.40)(4.7,0.21)(6.5,0.09)(8,0.0)(10,-0.20)(11.9,-0.40)(15.5,-0.66)(19,-0.82)}
\plotthick{(2,0.68)(3.6,0.45)(4.7,0.42)(6.5,0.27)(8.3,0.09)(10.1,-0.03)(11.9,-0.16)(13.7,-0.28)(15.5,-0.40)(19,-0.55)}
\addplot[only marks, mark=*, mark size=1.25pt, draw=femagd, fill=femag] coordinates {(6.06,0.52)(5.61,0.47)(4.71,0.33)(5.43,0.33)(6.06,0.34)(6.51,0.31)(7.05,0.27)(7.78,0.27)(6.15,0.23)(6.87,0.21)(7.42,0.19)(7.96,0.17)(8.50,0.21)(9.40,0.32)(9.94,0.27)(10.48,0.23)(5.79,0.15)(6.33,0.15)(6.87,0.13)(7.23,0.11)(7.60,0.15)(8.32,0.11)(8.86,0.13)(9.40,0.17)(9.76,0.15)(10.30,0.13)(6.51,0.07)(6.87,0.03)(7.42,0.07)(7.78,0.03)(8.32,0.05)(8.68,0.03)(9.22,0.05)(9.76,0.03)(10.12,0.07)(10.48,0.05)(11.03,-0.01)(11.75,0.01)(11.93,-0.01)(6.69,-0.05)(7.23,-0.05)(7.78,-0.11)(8.50,-0.07)(9.04,-0.05)(9.58,-0.07)(10.12,-0.05)(10.66,-0.07)(11.21,-0.05)(10.12,-0.15)(10.48,-0.13)(11.03,-0.11)(11.57,-0.13)(12.11,-0.13)(12.65,-0.15)(13.19,-0.13)(7.60,-0.18)(8.68,-0.22)(9.76,-0.17)(10.48,-0.18)(11.21,-0.18)(11.75,-0.20)(12.29,-0.17)(12.83,-0.20)(13.55,-0.21)(11.75,-0.26)(12.29,-0.24)(12.83,-0.32)(12.65,-0.38)(13.19,-0.38)(14.09,-0.34)(15.00,-0.05)};
\addplot[only marks, mark=*, mark size=0.9pt, femag] coordinates {(15.90,-0.30)(14.27,-0.56)(14.64,-0.68)(15.54,-0.60)(16.98,-0.48)(14.64,-0.84)(17.34,0.42)(4.71,-0.31)(18.06,-0.50)(7.3,0.15)(7.5,0.12)(7.7,0.09)(8.0,0.08)(8.2,0.14)(8.6,0.09)(8.9,0.06)(9.1,0.0)(9.3,-0.02)(7.0,0.18)(6.6,0.20)(8.4,0.02)(9.6,-0.1)(9.9,-0.03)(7.2,0.22)(7.9,0.2)(8.1,0.16)(8.7,0.12)(9.0,0.1)(9.5,0.08)(7.4,0.04)(8.0,-0.02)(8.8,-0.12)(10.8,-0.2)(11.4,-0.27)};
\plotsun
\plotlab{Fe}
\plotxlab
% ---------------- Co
\nextgroupplot
\plotthin{(2,0.335)(4.2,0.07)(6.4,-0.27)(8.55,-0.60)(10.5,-0.98)(10.6,-1.0)}
\plotthin{(2,0.68)(3.3,0.46)(5,0.28)(6.5,0.12)(8,0.0)(10.7,-0.23)(15.1,-0.60)(19,-0.92)}
\plotthick{(2,0.70)(3.3,0.49)(4.6,0.48)(5.9,0.40)(8.55,0.15)(10.7,-0.05)(12.9,-0.23)(15.1,-0.405)(17.3,-0.54)(19,-0.62)}
\plotpts{(7.57,0.48)(7.63,0.43)(6.04,0.42)(17.72,0.55)(6.15,0.35)(6.04,0.30)(9.10,0.27)(10.30,0.25)(8.55,0.23)(5.49,0.21)(6.59,0.21)(7.24,0.19)(8.33,0.19)(8.99,0.19)(9.64,0.17)(10.19,0.19)(10.73,0.21)(14.45,0.16)(14.12,0.14)(6.37,0.13)(7.02,0.15)(7.68,0.13)(8.55,0.15)(9.42,0.13)(9.86,0.15)(10.30,0.13)(10.95,0.15)(6.15,0.09)(6.80,0.09)(7.46,0.11)(8.99,0.09)(9.64,0.07)(10.08,0.09)(10.95,0.10)(11.61,0.09)(12.15,0.05)(13.24,0.12)(16.30,0.07)(6.48,0.03)(7.24,0.05)(8.77,0.03)(9.42,0.03)(9.86,0.01)(10.52,0.03)(11.39,0.01)(12.04,0.02)(13.90,0.01)(6.59,-0.03)(7.24,-0.05)(8.55,-0.01)(9.21,-0.03)(9.64,-0.01)(10.08,-0.05)(10.73,-0.03)(11.61,-0.01)(12.92,-0.01)(14.01,-0.02)(14.55,-0.03)(7.68,-0.13)(8.55,-0.11)(9.42,-0.09)(10.08,-0.11)(10.73,-0.09)(11.17,-0.13)(11.61,-0.11)(12.26,-0.09)(13.35,-0.12)(14.23,-0.09)(15.32,-0.08)(14.99,-0.13)(17.17,-0.14)(8.77,-0.15)(9.42,-0.17)(10.30,-0.15)(10.95,-0.17)(11.61,-0.15)(12.48,-0.17)(13.14,-0.17)(13.79,-0.15)(14.55,-0.18)(9.64,-0.25)(10.30,-0.23)(10.95,-0.21)(11.61,-0.23)(12.48,-0.25)(12.92,-0.23)(13.35,-0.25)(10.08,-0.28)(11.39,-0.31)(11.83,-0.33)(12.48,-0.35)(12.92,-0.37)(13.46,-0.34)(13.79,-0.27)(11.50,-0.42)(12.26,-0.47)(12.92,-0.43)(13.46,-0.38)(16.52,-0.31)(16.96,-0.37)(8.55,-0.47)(3.86,-0.01)(6.80,-0.85)(9.2,0.05)(9.5,0.0)(9.0,-0.05)(9.8,0.05)}
\plotpts{(7.0,0.05)(7.5,0.03)(7.7,0.07)(8.3,0.06)(8.6,0.1)(8.9,0.12)(9.1,0.0)(9.3,0.06)(9.5,0.1)(9.8,0.0)(10.2,-0.02)(10.4,0.06)(10.6,-0.12)(10.9,-0.05)(11.2,-0.07)(11.4,-0.19)(11.9,-0.2)(12.2,-0.13)(12.6,-0.21)(13.0,-0.13)(13.6,-0.2)(12.8,-0.3)(9.8,-0.13)(9.1,-0.13)(8.2,-0.07)(6.9,0.18)(7.8,0.25)(11.0,0.05)(11.8,0.14)(12.6,0.04)}
\plotsun
\plotlab{Co}
\plotxlab
% ---------------- Ni
\nextgroupplot
\plotthin{(2,0.23)(4.65,0.07)(6.8,-0.25)(9,-0.60)(11,-0.98)(11.1,-1.0)}
\plotthin{(2,0.67)(3.55,0.45)(5,0.28)(6.5,0.12)(8,0.0)(10.5,-0.19)(13.4,-0.40)(19,-0.80)}
\plotthick{(2,0.69)(3.55,0.48)(4.65,0.44)(6.8,0.285)(9,0.127)(11.2,-0.03)(13.4,-0.19)(15.6,-0.35)(19,-0.53)}
\plotpts{(6.07,0.36)(7.60,0.40)(17.75,0.33)(5.52,0.22)(6.72,0.22)(6.29,0.15)(6.61,0.13)(7.05,0.15)(7.71,0.14)(8.36,0.15)(6.61,0.09)(7.27,0.10)(7.92,0.09)(8.58,0.07)(9.02,0.08)(9.67,0.09)(10.11,0.03)(6.18,0.03)(6.83,0.03)(7.27,0.01)(8.58,0.01)(9.24,0.02)(9.67,0.00)(10.33,0.03)(6.40,-0.03)(7.05,-0.03)(7.71,-0.05)(8.36,-0.03)(9.02,-0.05)(9.45,-0.01)(9.89,-0.03)(10.55,-0.03)(11.20,-0.05)(7.27,-0.09)(7.92,-0.11)(8.58,-0.09)(9.24,-0.11)(9.67,-0.09)(10.33,-0.11)(10.98,-0.09)(11.64,-0.12)(6.83,-0.19)(7.49,-0.17)(8.14,-0.15)(9.02,-0.15)(9.67,-0.17)(10.33,-0.15)(10.98,-0.17)(11.64,-0.19)(12.29,-0.16)(12.95,-0.15)(9.02,-0.24)(9.67,-0.23)(10.33,-0.21)(10.98,-0.25)(11.42,-0.23)(12.29,-0.21)(13.16,-0.21)(13.82,-0.23)(14.47,-0.21)(14.15,-0.06)(14.15,-0.12)(8.58,-0.29)(10.11,-0.27)(11.64,-0.34)(12.07,-0.37)(12.73,-0.33)(13.16,-0.30)(13.38,-0.33)(13.82,-0.36)(14.26,-0.33)(12.51,-0.41)(13.16,-0.42)(13.60,-0.41)(14.15,-0.41)(14.69,-0.39)(14.58,-0.44)(12.40,-0.48)(15.46,-0.34)(16.44,-0.36)(17.21,-0.34)(15.13,-0.52)(16.99,-0.51)(3.88,-0.20)(13.82,-0.75)(9.3,-0.06)(9.5,-0.13)(9.9,-0.07)(10.1,-0.18)}
\plotpts{(6.8,0.17)(7.1,0.06)(7.5,0.05)(7.7,0.1)(7.9,0.0)(8.2,0.04)(8.3,-0.07)(8.8,-0.02)(9.0,-0.1)(9.2,0.05)(9.4,-0.07)(9.6,-0.04)(9.8,-0.12)(10.0,-0.01)(10.2,-0.09)(10.5,-0.13)(10.7,-0.2)(11.0,-0.14)(11.3,-0.19)(11.6,-0.24)(11.9,-0.21)(12.2,-0.28)(12.6,-0.25)(12.9,-0.27)(13.5,-0.28)(11.9,-0.3)(8.8,-0.18)(8.0,-0.2)(7.6,-0.13)(10.7,0.0)}
\plotsun
\plotlab{Ni}
\plotxlab
% ---------------- Cu
\nextgroupplot
\plotthin{(2,0.50)(3,0.36)(4.5,0.06)(6,-0.30)(7.5,-0.68)(8.46,-0.98)(8.6,-1.0)}
\plotthin{(2,0.62)(2.8,0.57)(3.3,0.545)(4.6,0.39)(6,0.19)(8,-0.01)(10,-0.27)(12,-0.52)(14,-0.74)(16.2,-0.98)(16.4,-1.0)}
\plotthick{(2,0.78)(2.25,0.72)(2.8,0.567)(3.3,0.545)(4,0.61)(4.6,0.67)(4.9,0.68)(5.5,0.61)(6.8,0.35)(9,0.015)(11.2,-0.27)(13.4,-0.515)(15.6,-0.71)(18.4,-0.91)(19,-0.98)}
\plotsun
\plotlab{Cu}
\plotxlab
\end{groupplot}
\path ([shift={(-52.8pt,2.7pt)}]G c1r1.north west) rectangle ([shift={(3.6pt,-33.6pt)}]G c5r4.south east);
\end{tikzpicture}
\end{document}
